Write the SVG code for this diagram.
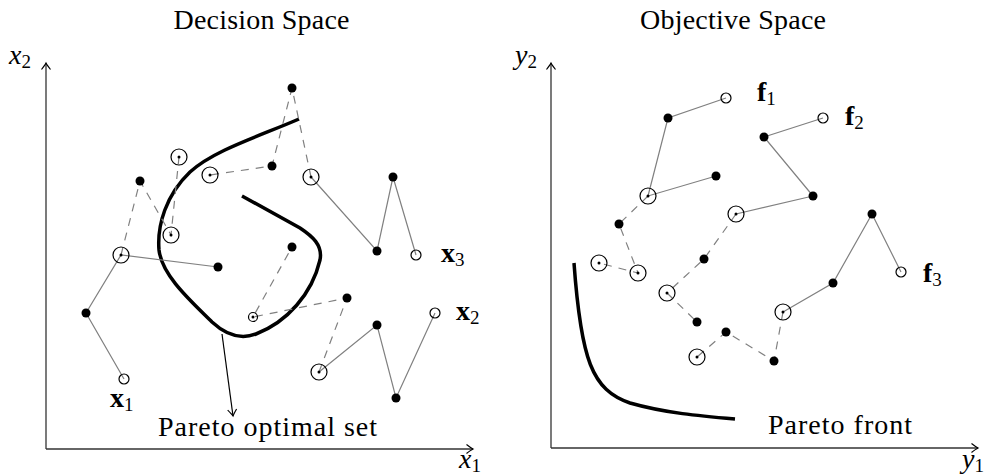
<svg xmlns="http://www.w3.org/2000/svg" width="984" height="476" viewBox="0 0 984 476">
<style>
text{font-family:"Liberation Serif","Times New Roman",serif;fill:#000}
.t{font-size:28px}
.mi{font-size:28px;font-style:italic}
.bf{font-size:28px;font-weight:bold}
.sub{font-size:19px;font-style:normal;font-weight:normal}
.axis{stroke:#333;stroke-width:1.3;fill:none}
.sol{stroke:#808080;stroke-width:1.2;fill:none}
.das{stroke:#808080;stroke-width:1.2;fill:none;stroke-dasharray:8 7}
.fd{fill:#000;stroke:none}
.ring{fill:none;stroke:#000;stroke-width:1.2}
.op{fill:none;stroke:#000;stroke-width:1.2}
.thick{stroke:#000;stroke-width:3.5;fill:none;stroke-linecap:butt}
</style>
<defs>
<marker id="ah" markerWidth="12" markerHeight="12" refX="0" refY="0" viewBox="-8 -6 10 12" orient="auto" markerUnits="userSpaceOnUse">
<path d="M-6.5,-4.5 Q-2,-1 0,0 Q-2,1 -6.5,4.5" fill="none" stroke="#000" stroke-width="1.2"/>
</marker>
</defs>

<!-- titles -->
<text class="t" x="261.5" y="29" text-anchor="middle" textLength="176">Decision Space</text>
<text class="t" x="733" y="29" text-anchor="middle" textLength="186">Objective Space</text>

<!-- axes -->
<g id="axes">
<path class="axis" d="M46,449 V63" marker-end="url(#ah)"/>
<path class="axis" d="M46,449 H473" marker-end="url(#ah)"/>
<path class="axis" d="M551,448 V63" marker-end="url(#ah)"/>
<path class="axis" d="M551,448 H978" marker-end="url(#ah)"/>
</g>
<text class="mi" x="9" y="64">x<tspan class="sub" dy="4">2</tspan></text>
<text class="mi" x="459" y="468">x<tspan class="sub" dy="4">1</tspan></text>
<text class="mi" x="515" y="64">y<tspan class="sub" dy="4">2</tspan></text>
<text class="mi" x="962" y="468">y<tspan class="sub" dy="4">1</tspan></text>

<!-- Pareto curves -->
<path class="thick" d="M299,119 C260,136 214,150 190,172 C166,195 157,225 159,250 C162,276 192,302 212,322 C226,335 240,340 256,334 C287,322 312,294 320,260 C323,245 312,236 300,228 L242,196"/>
<path class="thick" d="M574,263 C581,360 592,390 630,403 C665,413 700,416 735,419"/>
<path d="M222,334 L233,416" stroke="#000" stroke-width="1.2" fill="none" marker-end="url(#ah)"/>
<text class="t" x="158" y="436" textLength="219">Pareto optimal set</text>
<text class="t" x="768" y="434" textLength="144">Pareto front</text>

<!-- connectors -->
<g id="connectors">
<polyline class="sol" points="124,379 86,313 121,255 218,267"/>
<polyline class="sol" points="416,255 393,177 377,251 311,177"/>
<polyline class="sol" points="435,313 396,398 377,325 319,372"/>
<polyline class="das" points="121,255 140,181 171,235 179,157"/>
<polyline class="das" points="311,177 292,88 272,166 210,175"/>
<polyline class="das" points="319,372 347,298 253,317 292,247"/>
<polyline class="sol" points="726,98 668,118 648,196 716,176"/>
<polyline class="sol" points="823,118 764,137 813,196 736,214"/>
<polyline class="sol" points="901,272 872,214 833,283 783,312"/>
<polyline class="das" points="648,196 619,224 638,273 599,263"/>
<polyline class="das" points="736,214 704,259 667,293 697,322"/>
<polyline class="das" points="783,312 774,361 726,332 697,357"/>
</g>

<!-- left nodes -->
<g id="x1-end"><circle class="op" cx="124" cy="379" r="5"/></g>
<g id="l-a"><circle class="fd" cx="86" cy="313" r="4.5"/></g>
<g id="l-b"><circle class="ring" cx="121" cy="255" r="8"/><circle class="fd" cx="121" cy="255" r="1.5"/></g>
<g id="l-c"><circle class="fd" cx="218" cy="267" r="4.5"/></g>
<g id="l-d"><circle class="fd" cx="140" cy="181" r="4.5"/></g>
<g id="l-e"><circle class="ring" cx="171" cy="235" r="8"/><circle class="fd" cx="171" cy="235" r="1.5"/></g>
<g id="l-f"><circle class="ring" cx="179" cy="157" r="8"/><circle class="fd" cx="179" cy="157" r="1.5"/></g>
<g id="x3-end"><circle class="op" cx="416" cy="255" r="5"/></g>
<g id="l-g"><circle class="fd" cx="393" cy="177" r="4.5"/></g>
<g id="l-h"><circle class="fd" cx="377" cy="251" r="4.5"/></g>
<g id="l-i"><circle class="ring" cx="311" cy="177" r="8"/><circle class="fd" cx="311" cy="177" r="1.5"/></g>
<g id="l-j"><circle class="fd" cx="292" cy="88" r="4.5"/></g>
<g id="l-k"><circle class="fd" cx="272" cy="166" r="4.5"/></g>
<g id="l-l"><circle class="ring" cx="210" cy="175" r="8"/><circle class="fd" cx="210" cy="175" r="1.5"/></g>
<g id="x2-end"><circle class="op" cx="435" cy="313" r="5"/></g>
<g id="l-m"><circle class="fd" cx="396" cy="398" r="4.5"/></g>
<g id="l-n"><circle class="fd" cx="377" cy="325" r="4.5"/></g>
<g id="l-o"><circle class="ring" cx="319" cy="372" r="8"/><circle class="fd" cx="319" cy="372" r="1.5"/></g>
<g id="l-p"><circle class="fd" cx="347" cy="298" r="4.5"/></g>
<g id="l-q"><circle class="ring" cx="253" cy="317" r="4.5"/><circle class="fd" cx="253" cy="317" r="1.5"/></g>
<g id="l-r"><circle class="fd" cx="292" cy="247" r="4.5"/></g>

<!-- right nodes -->
<g id="f1-end"><circle class="op" cx="726" cy="98" r="5"/></g>
<g id="r-a"><circle class="fd" cx="668" cy="118" r="4.5"/></g>
<g id="r-b"><circle class="ring" cx="648" cy="196" r="8"/><circle class="fd" cx="648" cy="196" r="1.5"/></g>
<g id="r-c"><circle class="fd" cx="716" cy="176" r="4.5"/></g>
<g id="r-d"><circle class="fd" cx="619" cy="224" r="4.5"/></g>
<g id="r-e"><circle class="ring" cx="638" cy="273" r="8"/><circle class="fd" cx="638" cy="273" r="1.5"/></g>
<g id="r-f"><circle class="ring" cx="599" cy="263" r="8"/><circle class="fd" cx="599" cy="263" r="1.5"/></g>
<g id="f2-end"><circle class="op" cx="823" cy="118" r="5"/></g>
<g id="r-g"><circle class="fd" cx="764" cy="137" r="4.5"/></g>
<g id="r-h"><circle class="fd" cx="813" cy="196" r="4.5"/></g>
<g id="r-i"><circle class="ring" cx="736" cy="214" r="8"/><circle class="fd" cx="736" cy="214" r="1.5"/></g>
<g id="r-j"><circle class="fd" cx="704" cy="259" r="4.5"/></g>
<g id="r-k"><circle class="ring" cx="667" cy="293" r="8"/><circle class="fd" cx="667" cy="293" r="1.5"/></g>
<g id="r-l"><circle class="fd" cx="697" cy="322" r="4.5"/></g>
<g id="f3-end"><circle class="op" cx="901" cy="272" r="5"/></g>
<g id="r-m"><circle class="fd" cx="872" cy="214" r="4.5"/></g>
<g id="r-n"><circle class="fd" cx="833" cy="283" r="4.5"/></g>
<g id="r-o"><circle class="ring" cx="783" cy="312" r="8"/><circle class="fd" cx="783" cy="312" r="1.5"/></g>
<g id="r-p"><circle class="fd" cx="774" cy="361" r="4.5"/></g>
<g id="r-q"><circle class="fd" cx="726" cy="332" r="4.5"/></g>
<g id="r-r"><circle class="ring" cx="697" cy="357" r="8"/><circle class="fd" cx="697" cy="357" r="1.5"/></g>

<!-- point labels -->
<text class="bf" x="110" y="407">x<tspan class="sub" dy="4">1</tspan></text>
<text class="bf" x="441" y="262">x<tspan class="sub" dy="4">3</tspan></text>
<text class="bf" x="456" y="320">x<tspan class="sub" dy="4">2</tspan></text>
<text class="bf" x="757" y="101">f<tspan class="sub" dy="4">1</tspan></text>
<text class="bf" x="845" y="125">f<tspan class="sub" dy="4">2</tspan></text>
<text class="bf" x="923" y="282">f<tspan class="sub" dy="4">3</tspan></text>
</svg>
